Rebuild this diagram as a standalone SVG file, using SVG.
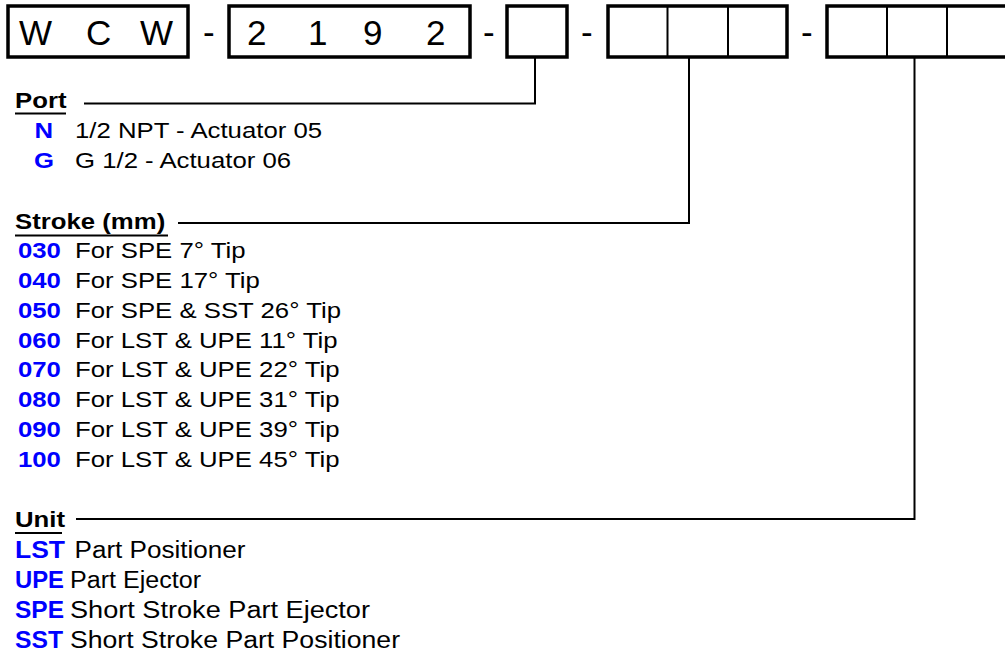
<svg xmlns="http://www.w3.org/2000/svg" width="1005" height="654" viewBox="0 0 1005 654">
<style>
.box{fill:none;stroke:#000;stroke-width:3.5}
.div{stroke:#000;stroke-width:2}
.conn{fill:none;stroke:#000;stroke-width:2}
.big{font-family:"Liberation Sans",Arial,sans-serif;font-size:35px;fill:#000}
.hd{font-family:"Liberation Sans",Arial,sans-serif;font-size:23px;font-weight:bold;fill:#000}
.code{font-family:"Liberation Sans",Arial,sans-serif;font-size:23px;font-weight:bold;fill:#0000ff}
.txt{font-family:"Liberation Sans",Arial,sans-serif;font-size:23px;fill:#000}
.ul{stroke:#000;stroke-width:2}
</style>
<rect width="1005" height="654" fill="#fff"/>
<g id="part-number">
  <g id="box-wcw">
    <rect class="box" x="8" y="6" width="180" height="51"/>
    <text class="big" x="19" y="45">W</text>
    <text class="big" x="86" y="45">C</text>
    <text class="big" x="140" y="45">W</text>
  </g>
  <text class="big" x="203" y="44">-</text>
  <g id="box-2192">
    <rect class="box" x="229" y="6" width="241" height="51"/>
    <text class="big" x="247" y="45">2</text>
    <text class="big" x="308" y="45">1</text>
    <text class="big" x="363" y="45">9</text>
    <text class="big" x="426" y="45">2</text>
  </g>
  <text class="big" x="483" y="44">-</text>
  <g id="box-port">
    <rect class="box" x="507" y="6" width="60" height="51"/>
  </g>
  <text class="big" x="581" y="44">-</text>
  <g id="box-stroke">
    <rect class="box" x="608" y="6" width="179" height="51"/>
    <line class="div" x1="667.5" y1="6" x2="667.5" y2="57"/>
    <line class="div" x1="728" y1="6" x2="728" y2="57"/>
  </g>
  <text class="big" x="801" y="44">-</text>
  <g id="box-unit">
    <rect class="box" x="827" y="6" width="190" height="51"/>
    <line class="div" x1="887" y1="6" x2="887" y2="57"/>
    <line class="div" x1="947" y1="6" x2="947" y2="57"/>
  </g>
</g>
<g id="connectors">
  <polyline class="conn" points="535,58 535,103.5 84,103.5"/>
  <polyline class="conn" points="689,58 689,223 178,223"/>
  <polyline class="conn" points="914.5,58 914.5,519 76,519"/>
</g>
<g id="port">
  <line class="ul" x1="15" y1="113.5" x2="66" y2="113.5"/>
  <g transform="scale(1.12,1)">
    <text class="hd" x="13.39" y="108.5">Port</text>
    <text class="code" x="30.8" y="138">N</text>
    <text class="txt" x="66.96" y="138">1/2 NPT - Actuator 05</text>
    <text class="code" x="30.4" y="168">G</text>
    <text class="txt" x="66.96" y="168">G 1/2 - Actuator 06</text>
  </g>
</g>
<g id="stroke">
  <line class="ul" x1="15" y1="235.5" x2="168" y2="235.5"/>
  <g transform="scale(1.12,1)">
    <text class="hd" x="13.39" y="229">Stroke (mm)</text>
    <text class="code" x="16.07" y="258">030</text><text class="txt" x="66.96" y="258">For SPE 7° Tip</text>
    <text class="code" x="16.07" y="287.9">040</text><text class="txt" x="66.96" y="287.9">For SPE 17° Tip</text>
    <text class="code" x="16.07" y="317.7">050</text><text class="txt" x="66.96" y="317.7">For SPE &amp; SST 26° Tip</text>
    <text class="code" x="16.07" y="347.6">060</text><text class="txt" x="66.96" y="347.6">For LST &amp; UPE 11° Tip</text>
    <text class="code" x="16.07" y="377.4">070</text><text class="txt" x="66.96" y="377.4">For LST &amp; UPE 22° Tip</text>
    <text class="code" x="16.07" y="407.3">080</text><text class="txt" x="66.96" y="407.3">For LST &amp; UPE 31° Tip</text>
    <text class="code" x="16.07" y="437.1">090</text><text class="txt" x="66.96" y="437.1">For LST &amp; UPE 39° Tip</text>
    <text class="code" x="16.07" y="467">100</text><text class="txt" x="66.96" y="467">For LST &amp; UPE 45° Tip</text>
  </g>
</g>
<g id="unit">
  <line class="ul" x1="15" y1="533" x2="62" y2="533"/>
  <g transform="scale(1.12,1)">
    <text class="hd" x="13.39" y="527.5">Unit</text>
  </g>
  <text class="code" x="15" y="558" textLength="50" lengthAdjust="spacingAndGlyphs">LST</text>
  <text class="txt" x="74.5" y="558" textLength="171" lengthAdjust="spacingAndGlyphs">Part Positioner</text>
  <text class="code" x="15" y="588" textLength="49" lengthAdjust="spacingAndGlyphs">UPE</text>
  <text class="txt" x="70" y="588" textLength="131" lengthAdjust="spacingAndGlyphs">Part Ejector</text>
  <text class="code" x="15" y="618" textLength="49" lengthAdjust="spacingAndGlyphs">SPE</text>
  <text class="txt" x="70" y="618" textLength="300" lengthAdjust="spacingAndGlyphs">Short Stroke Part Ejector</text>
  <text class="code" x="15" y="648" textLength="48" lengthAdjust="spacingAndGlyphs">SST</text>
  <text class="txt" x="70" y="648" textLength="330" lengthAdjust="spacingAndGlyphs">Short Stroke Part Positioner</text>
</g>
</svg>
